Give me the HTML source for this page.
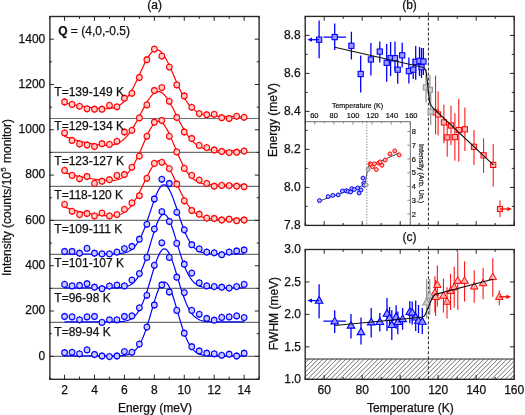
<!DOCTYPE html>
<html><head><meta charset="utf-8"><style>
html,body{margin:0;padding:0;background:#fff;width:525px;height:415px;overflow:hidden}
body{position:relative}
</style></head><body>
<svg width="525" height="415" viewBox="0 0 525 415" style="position:absolute;left:0;top:0;will-change:transform"><rect width="525" height="415" fill="#fff"/><line x1="49.6" y1="118.45" x2="259.1" y2="118.45" stroke="#707070" stroke-width="1.15"/><line x1="49.6" y1="152.44" x2="259.1" y2="152.44" stroke="#707070" stroke-width="1.15"/><line x1="49.6" y1="186.42" x2="259.1" y2="186.42" stroke="#707070" stroke-width="1.15"/><line x1="49.6" y1="220.41" x2="259.1" y2="220.41" stroke="#707070" stroke-width="1.15"/><line x1="49.6" y1="254.39" x2="259.1" y2="254.39" stroke="#707070" stroke-width="1.15"/><line x1="49.6" y1="288.38" x2="259.1" y2="288.38" stroke="#707070" stroke-width="1.15"/><line x1="49.6" y1="322.36" x2="259.1" y2="322.36" stroke="#707070" stroke-width="1.15"/><line x1="49.6" y1="356.34" x2="259.1" y2="356.34" stroke="#707070" stroke-width="1.15"/><polyline points="64.56,102.97 65.32,103.12 66.07,103.27 66.82,103.42 67.57,103.57 68.32,103.72 69.07,103.87 69.82,104.01 70.58,104.16 71.33,104.30 72.08,104.44 72.83,104.58 73.58,104.71 74.33,104.85 75.08,104.98 75.83,105.12 76.59,105.25 77.34,105.38 78.09,105.51 78.84,105.64 79.59,105.76 80.34,105.89 81.09,106.01 81.85,106.14 82.60,106.26 83.35,106.38 84.10,106.50 84.85,106.61 85.60,106.73 86.35,106.84 87.10,106.95 87.86,107.06 88.61,107.17 89.36,107.28 90.11,107.39 90.86,107.49 91.61,107.59 92.36,107.69 93.12,107.79 93.87,107.88 94.62,107.97 95.37,108.06 96.12,108.15 96.87,108.23 97.62,108.31 98.37,108.38 99.13,108.45 99.88,108.52 100.63,108.57 101.38,108.63 102.13,108.67 102.88,108.71 103.63,108.74 104.39,108.76 105.14,108.77 105.89,108.76 106.64,108.75 107.39,108.72 108.14,108.68 108.89,108.62 109.64,108.55 110.40,108.46 111.15,108.34 111.90,108.21 112.65,108.05 113.40,107.86 114.15,107.65 114.90,107.41 115.66,107.13 116.41,106.83 117.16,106.49 117.91,106.11 118.66,105.69 119.41,105.23 120.16,104.73 120.92,104.18 121.67,103.58 122.42,102.94 123.17,102.24 123.92,101.49 124.67,100.69 125.42,99.84 126.17,98.93 126.93,97.96 127.68,96.94 128.43,95.86 129.18,94.72 129.93,93.53 130.68,92.29 131.43,90.99 132.19,89.64 132.94,88.25 133.69,86.80 134.44,85.32 135.19,83.80 135.94,82.24 136.69,80.65 137.44,79.04 138.20,77.40 138.95,75.75 139.70,74.10 140.45,72.44 141.20,70.79 141.95,69.15 142.70,67.53 143.46,65.93 144.21,64.38 144.96,62.86 145.71,61.39 146.46,59.98 147.21,58.64 147.96,57.36 148.71,56.17 149.47,55.06 150.22,54.04 150.97,53.12 151.72,52.31 152.47,51.60 153.22,51.00 153.97,50.52 154.73,50.16 155.48,49.92 156.23,49.80 156.98,49.81 157.73,49.94 158.48,50.19 159.23,50.57 159.99,51.07 160.74,51.68 161.49,52.41 162.24,53.25 162.99,54.20 163.74,55.25 164.49,56.39 165.24,57.62 166.00,58.94 166.75,60.33 167.50,61.79 168.25,63.32 169.00,64.89 169.75,66.52 170.50,68.18 171.26,69.88 172.01,71.60 172.76,73.34 173.51,75.08 174.26,76.83 175.01,78.58 175.76,80.32 176.51,82.04 177.27,83.73 178.02,85.41 178.77,87.04 179.52,88.65 180.27,90.21 181.02,91.73 181.77,93.20 182.53,94.63 183.28,96.00 184.03,97.32 184.78,98.59 185.53,99.80 186.28,100.95 187.03,102.05 187.78,103.09 188.54,104.08 189.29,105.01 190.04,105.89 190.79,106.72 191.54,107.49 192.29,108.22 193.04,108.90 193.80,109.53 194.55,110.12 195.30,110.66 196.05,111.17 196.80,111.64 197.55,112.07 198.30,112.47 199.06,112.83 199.81,113.17 200.56,113.47 201.31,113.75 202.06,114.01 202.81,114.25 203.56,114.46 204.31,114.65 205.07,114.83 205.82,114.99 206.57,115.14 207.32,115.27 208.07,115.39 208.82,115.50 209.57,115.60 210.33,115.69 211.08,115.77 211.83,115.85 212.58,115.92 213.33,115.98 214.08,116.04 214.83,116.09 215.58,116.14 216.34,116.18 217.09,116.22 217.84,116.26 218.59,116.29 219.34,116.33 220.09,116.36 220.84,116.39 221.60,116.41 222.35,116.44 223.10,116.46 223.85,116.49 224.60,116.51 225.35,116.53 226.10,116.55 226.85,116.57 227.61,116.59 228.36,116.61 229.11,116.63 229.86,116.65 230.61,116.67 231.36,116.69 232.11,116.70 232.87,116.72 233.62,116.74 234.37,116.75 235.12,116.77 235.87,116.79 236.62,116.80 237.37,116.82 238.12,116.83 238.88,116.85 239.63,116.86 240.38,116.88 241.13,116.89 241.88,116.91 242.63,116.92 243.38,116.94 244.14,116.95" fill="none" stroke="#ff0000" stroke-width="1.2"/><polyline points="64.56,136.25 65.32,136.54 66.07,136.83 66.82,137.11 67.57,137.38 68.32,137.65 69.07,137.91 69.82,138.17 70.58,138.43 71.33,138.67 72.08,138.92 72.83,139.16 73.58,139.39 74.33,139.62 75.08,139.84 75.83,140.06 76.59,140.28 77.34,140.49 78.09,140.70 78.84,140.90 79.59,141.10 80.34,141.30 81.09,141.49 81.85,141.68 82.60,141.86 83.35,142.04 84.10,142.22 84.85,142.39 85.60,142.56 86.35,142.72 87.10,142.88 87.86,143.04 88.61,143.19 89.36,143.34 90.11,143.49 90.86,143.63 91.61,143.77 92.36,143.90 93.12,144.03 93.87,144.16 94.62,144.28 95.37,144.40 96.12,144.51 96.87,144.62 97.62,144.72 98.37,144.81 99.13,144.90 99.88,144.99 100.63,145.06 101.38,145.13 102.13,145.19 102.88,145.25 103.63,145.29 104.39,145.33 105.14,145.35 105.89,145.36 106.64,145.36 107.39,145.35 108.14,145.32 108.89,145.28 109.64,145.22 110.40,145.15 111.15,145.05 111.90,144.94 112.65,144.80 113.40,144.64 114.15,144.46 114.90,144.25 115.66,144.01 116.41,143.74 117.16,143.45 117.91,143.12 118.66,142.75 119.41,142.36 120.16,141.92 120.92,141.45 121.67,140.93 122.42,140.38 123.17,139.78 123.92,139.14 124.67,138.45 125.42,137.72 126.17,136.94 126.93,136.11 127.68,135.24 128.43,134.32 129.18,133.35 129.93,132.34 130.68,131.28 131.43,130.17 132.19,129.02 132.94,127.83 133.69,126.60 134.44,125.33 135.19,124.03 135.94,122.69 136.69,121.32 137.44,119.93 138.20,118.52 138.95,117.09 139.70,115.65 140.45,114.20 141.20,112.75 141.95,111.30 142.70,109.86 143.46,108.44 144.21,107.03 144.96,105.65 145.71,104.30 146.46,103.00 147.21,101.73 147.96,100.52 148.71,99.36 149.47,98.26 150.22,97.24 150.97,96.28 151.72,95.40 152.47,94.60 153.22,93.89 153.97,93.27 154.73,92.75 155.48,92.32 156.23,91.99 156.98,91.75 157.73,91.63 158.48,91.60 159.23,91.68 159.99,91.86 160.74,92.14 161.49,92.52 162.24,93.01 162.99,93.58 163.74,94.26 164.49,95.02 165.24,95.87 166.00,96.80 166.75,97.81 167.50,98.89 168.25,100.03 169.00,101.24 169.75,102.51 170.50,103.83 171.26,105.19 172.01,106.59 172.76,108.02 173.51,109.48 174.26,110.96 175.01,112.45 175.76,113.96 176.51,115.46 177.27,116.97 178.02,118.47 178.77,119.95 179.52,121.42 180.27,122.87 181.02,124.29 181.77,125.69 182.53,127.05 183.28,128.38 184.03,129.67 184.78,130.92 185.53,132.14 186.28,133.30 187.03,134.43 187.78,135.51 188.54,136.54 189.29,137.52 190.04,138.46 190.79,139.36 191.54,140.20 192.29,141.00 193.04,141.76 193.80,142.47 194.55,143.14 195.30,143.77 196.05,144.36 196.80,144.91 197.55,145.42 198.30,145.90 199.06,146.34 199.81,146.75 200.56,147.13 201.31,147.48 202.06,147.80 202.81,148.10 203.56,148.37 204.31,148.62 205.07,148.85 205.82,149.05 206.57,149.24 207.32,149.41 208.07,149.57 208.82,149.71 209.57,149.84 210.33,149.95 211.08,150.06 211.83,150.15 212.58,150.23 213.33,150.31 214.08,150.38 214.83,150.44 215.58,150.49 216.34,150.54 217.09,150.58 217.84,150.62 218.59,150.66 219.34,150.69 220.09,150.72 220.84,150.74 221.60,150.76 222.35,150.78 223.10,150.80 223.85,150.82 224.60,150.83 225.35,150.84 226.10,150.86 226.85,150.87 227.61,150.88 228.36,150.89 229.11,150.89 229.86,150.90 230.61,150.91 231.36,150.91 232.11,150.92 232.87,150.92 233.62,150.93 234.37,150.93 235.12,150.94 235.87,150.94 236.62,150.95 237.37,150.95 238.12,150.95 238.88,150.96 239.63,150.96 240.38,150.96 241.13,150.97 241.88,150.97 242.63,150.97 243.38,150.98 244.14,150.98" fill="none" stroke="#ff0000" stroke-width="1.2"/><polyline points="64.56,172.50 65.32,172.74 66.07,172.97 66.82,173.20 67.57,173.42 68.32,173.64 69.07,173.86 69.82,174.07 70.58,174.28 71.33,174.48 72.08,174.68 72.83,174.88 73.58,175.07 74.33,175.26 75.08,175.45 75.83,175.63 76.59,175.81 77.34,175.99 78.09,176.16 78.84,176.33 79.59,176.49 80.34,176.66 81.09,176.82 81.85,176.98 82.60,177.13 83.35,177.28 84.10,177.43 84.85,177.58 85.60,177.72 86.35,177.86 87.10,178.00 87.86,178.13 88.61,178.26 89.36,178.39 90.11,178.52 90.86,178.65 91.61,178.77 92.36,178.89 93.12,179.00 93.87,179.12 94.62,179.23 95.37,179.34 96.12,179.44 96.87,179.55 97.62,179.65 98.37,179.74 99.13,179.84 99.88,179.93 100.63,180.01 101.38,180.09 102.13,180.17 102.88,180.25 103.63,180.31 104.39,180.37 105.14,180.43 105.89,180.48 106.64,180.52 107.39,180.56 108.14,180.58 108.89,180.60 109.64,180.60 110.40,180.59 111.15,180.57 111.90,180.54 112.65,180.49 113.40,180.42 114.15,180.33 114.90,180.23 115.66,180.10 116.41,179.95 117.16,179.77 117.91,179.56 118.66,179.32 119.41,179.05 120.16,178.74 120.92,178.40 121.67,178.02 122.42,177.59 123.17,177.12 123.92,176.60 124.67,176.04 125.42,175.42 126.17,174.74 126.93,174.01 127.68,173.23 128.43,172.38 129.18,171.47 129.93,170.50 130.68,169.47 131.43,168.37 132.19,167.21 132.94,165.99 133.69,164.71 134.44,163.36 135.19,161.96 135.94,160.50 136.69,158.99 137.44,157.43 138.20,155.82 138.95,154.17 139.70,152.49 140.45,150.77 141.20,149.03 141.95,147.28 142.70,145.52 143.46,143.76 144.21,142.00 144.96,140.26 145.71,138.54 146.46,136.86 147.21,135.21 147.96,133.62 148.71,132.09 149.47,130.63 150.22,129.25 150.97,127.95 151.72,126.75 152.47,125.65 153.22,124.66 153.97,123.78 154.73,123.03 155.48,122.40 156.23,121.91 156.98,121.54 157.73,121.32 158.48,121.23 159.23,121.29 159.99,121.48 160.74,121.81 161.49,122.28 162.24,122.88 162.99,123.60 163.74,124.46 164.49,125.43 165.24,126.52 166.00,127.71 166.75,129.00 167.50,130.38 168.25,131.85 169.00,133.39 169.75,134.99 170.50,136.66 171.26,138.37 172.01,140.12 172.76,141.89 173.51,143.69 174.26,145.50 175.01,147.32 175.76,149.13 176.51,150.93 177.27,152.71 178.02,154.46 178.77,156.18 179.52,157.86 180.27,159.51 181.02,161.10 181.77,162.65 182.53,164.14 183.28,165.57 184.03,166.94 184.78,168.26 185.53,169.51 186.28,170.70 187.03,171.83 187.78,172.89 188.54,173.90 189.29,174.84 190.04,175.72 190.79,176.54 191.54,177.31 192.29,178.03 193.04,178.69 193.80,179.30 194.55,179.86 195.30,180.38 196.05,180.85 196.80,181.29 197.55,181.68 198.30,182.05 199.06,182.37 199.81,182.67 200.56,182.94 201.31,183.18 202.06,183.40 202.81,183.60 203.56,183.77 204.31,183.93 205.07,184.07 205.82,184.19 206.57,184.30 207.32,184.40 208.07,184.49 208.82,184.57 209.57,184.64 210.33,184.70 211.08,184.75 211.83,184.80 212.58,184.84 213.33,184.88 214.08,184.91 214.83,184.94 215.58,184.96 216.34,184.98 217.09,185.00 217.84,185.02 218.59,185.04 219.34,185.05 220.09,185.06 220.84,185.08 221.60,185.09 222.35,185.09 223.10,185.10 223.85,185.11 224.60,185.12 225.35,185.13 226.10,185.13 226.85,185.14 227.61,185.14 228.36,185.15 229.11,185.15 229.86,185.16 230.61,185.16 231.36,185.17 232.11,185.17 232.87,185.17 233.62,185.18 234.37,185.18 235.12,185.19 235.87,185.19 236.62,185.19 237.37,185.20 238.12,185.20 238.88,185.20 239.63,185.21 240.38,185.21 241.13,185.21 241.88,185.22 242.63,185.22 243.38,185.22 244.14,185.23" fill="none" stroke="#ff0000" stroke-width="1.2"/><polyline points="64.56,206.99 65.32,207.28 66.07,207.56 66.82,207.84 67.57,208.10 68.32,208.37 69.07,208.63 69.82,208.88 70.58,209.12 71.33,209.36 72.08,209.60 72.83,209.82 73.58,210.05 74.33,210.27 75.08,210.48 75.83,210.69 76.59,210.89 77.34,211.09 78.09,211.28 78.84,211.47 79.59,211.66 80.34,211.84 81.09,212.01 81.85,212.18 82.60,212.35 83.35,212.52 84.10,212.68 84.85,212.83 85.60,212.99 86.35,213.14 87.10,213.28 87.86,213.42 88.61,213.56 89.36,213.70 90.11,213.83 90.86,213.96 91.61,214.08 92.36,214.20 93.12,214.32 93.87,214.44 94.62,214.55 95.37,214.66 96.12,214.76 96.87,214.87 97.62,214.97 98.37,215.06 99.13,215.15 99.88,215.24 100.63,215.32 101.38,215.40 102.13,215.48 102.88,215.55 103.63,215.61 104.39,215.67 105.14,215.72 105.89,215.77 106.64,215.81 107.39,215.84 108.14,215.87 108.89,215.88 109.64,215.89 110.40,215.88 111.15,215.87 111.90,215.84 112.65,215.80 113.40,215.74 114.15,215.67 114.90,215.57 115.66,215.46 116.41,215.33 117.16,215.18 117.91,215.00 118.66,214.80 119.41,214.57 120.16,214.31 120.92,214.01 121.67,213.69 122.42,213.32 123.17,212.92 123.92,212.48 124.67,212.00 125.42,211.48 126.17,210.90 126.93,210.29 127.68,209.62 128.43,208.90 129.18,208.13 129.93,207.30 130.68,206.42 131.43,205.49 132.19,204.50 132.94,203.46 133.69,202.36 134.44,201.21 135.19,200.00 135.94,198.75 136.69,197.44 137.44,196.09 138.20,194.69 138.95,193.26 139.70,191.78 140.45,190.27 141.20,188.74 141.95,187.18 142.70,185.61 143.46,184.02 144.21,182.44 144.96,180.85 145.71,179.27 146.46,177.71 147.21,176.17 147.96,174.67 148.71,173.20 149.47,171.78 150.22,170.41 150.97,169.11 151.72,167.88 152.47,166.72 153.22,165.64 153.97,164.66 154.73,163.77 155.48,162.98 156.23,162.30 156.98,161.73 157.73,161.27 158.48,160.93 159.23,160.70 159.99,160.60 160.74,160.62 161.49,160.76 162.24,161.02 162.99,161.40 163.74,161.89 164.49,162.50 165.24,163.22 166.00,164.05 166.75,164.97 167.50,165.99 168.25,167.10 169.00,168.30 169.75,169.56 170.50,170.90 171.26,172.30 172.01,173.76 172.76,175.26 173.51,176.80 174.26,178.37 175.01,179.96 175.76,181.57 176.51,183.19 177.27,184.82 178.02,186.43 178.77,188.04 179.52,189.63 180.27,191.20 181.02,192.74 181.77,194.25 182.53,195.72 183.28,197.15 184.03,198.53 184.78,199.87 185.53,201.16 186.28,202.41 187.03,203.59 187.78,204.73 188.54,205.81 189.29,206.83 190.04,207.81 190.79,208.72 191.54,209.59 192.29,210.40 193.04,211.16 193.80,211.87 194.55,212.54 195.30,213.15 196.05,213.72 196.80,214.25 197.55,214.74 198.30,215.19 199.06,215.60 199.81,215.98 200.56,216.33 201.31,216.64 202.06,216.93 202.81,217.19 203.56,217.42 204.31,217.64 205.07,217.83 205.82,218.00 206.57,218.15 207.32,218.29 208.07,218.42 208.82,218.53 209.57,218.63 210.33,218.71 211.08,218.79 211.83,218.86 212.58,218.92 213.33,218.97 214.08,219.02 214.83,219.06 215.58,219.10 216.34,219.13 217.09,219.16 217.84,219.18 218.59,219.20 219.34,219.22 220.09,219.24 220.84,219.25 221.60,219.26 222.35,219.28 223.10,219.28 223.85,219.29 224.60,219.30 225.35,219.31 226.10,219.31 226.85,219.32 227.61,219.32 228.36,219.33 229.11,219.33 229.86,219.33 230.61,219.34 231.36,219.34 232.11,219.34 232.87,219.34 233.62,219.35 234.37,219.35 235.12,219.35 235.87,219.35 236.62,219.35 237.37,219.35 238.12,219.36 238.88,219.36 239.63,219.36 240.38,219.36 241.13,219.36 241.88,219.36 242.63,219.36 243.38,219.36 244.14,219.37" fill="none" stroke="#ff0000" stroke-width="1.2"/><polyline points="64.56,253.99 65.32,253.99 66.07,253.99 66.82,253.99 67.57,253.99 68.32,253.99 69.07,253.99 69.82,253.99 70.58,253.99 71.33,253.99 72.08,253.99 72.83,253.99 73.58,253.99 74.33,253.99 75.08,253.99 75.83,253.99 76.59,253.99 77.34,253.99 78.09,253.99 78.84,253.99 79.59,253.99 80.34,253.99 81.09,253.99 81.85,253.99 82.60,253.99 83.35,253.99 84.10,253.99 84.85,253.99 85.60,253.99 86.35,253.99 87.10,253.99 87.86,253.99 88.61,253.99 89.36,253.99 90.11,253.99 90.86,253.99 91.61,253.99 92.36,253.99 93.12,253.99 93.87,253.99 94.62,253.99 95.37,253.99 96.12,253.99 96.87,253.99 97.62,253.99 98.37,253.99 99.13,253.99 99.88,253.99 100.63,253.99 101.38,253.99 102.13,253.99 102.88,253.99 103.63,253.99 104.39,253.98 105.14,253.98 105.89,253.98 106.64,253.98 107.39,253.97 108.14,253.97 108.89,253.97 109.64,253.96 110.40,253.95 111.15,253.94 111.90,253.93 112.65,253.92 113.40,253.90 114.15,253.89 114.90,253.86 115.66,253.84 116.41,253.81 117.16,253.77 117.91,253.72 118.66,253.67 119.41,253.61 120.16,253.54 120.92,253.45 121.67,253.35 122.42,253.24 123.17,253.11 123.92,252.95 124.67,252.78 125.42,252.58 126.17,252.35 126.93,252.09 127.68,251.79 128.43,251.46 129.18,251.08 129.93,250.66 130.68,250.19 131.43,249.67 132.19,249.08 132.94,248.44 133.69,247.73 134.44,246.95 135.19,246.09 135.94,245.16 136.69,244.14 137.44,243.04 138.20,241.85 138.95,240.58 139.70,239.21 140.45,237.76 141.20,236.21 141.95,234.57 142.70,232.85 143.46,231.04 144.21,229.14 144.96,227.17 145.71,225.13 146.46,223.03 147.21,220.87 147.96,218.66 148.71,216.42 149.47,214.15 150.22,211.87 150.97,209.60 151.72,207.33 152.47,205.10 153.22,202.91 153.97,200.78 154.73,198.72 155.48,196.76 156.23,194.89 156.98,193.15 157.73,191.54 158.48,190.08 159.23,188.78 159.99,187.64 160.74,186.69 161.49,185.92 162.24,185.35 162.99,184.97 163.74,184.80 164.49,184.83 165.24,185.07 166.00,185.51 166.75,186.14 167.50,186.97 168.25,187.98 169.00,189.17 169.75,190.53 170.50,192.04 171.26,193.69 172.01,195.47 172.76,197.37 173.51,199.36 174.26,201.44 175.01,203.60 175.76,205.80 176.51,208.05 177.27,210.31 178.02,212.59 178.77,214.87 179.52,217.13 180.27,219.36 181.02,221.56 181.77,223.70 182.53,225.78 183.28,227.80 184.03,229.75 184.78,231.62 185.53,233.40 186.28,235.10 187.03,236.71 187.78,238.23 188.54,239.66 189.29,240.99 190.04,242.24 190.79,243.40 191.54,244.47 192.29,245.46 193.04,246.37 193.80,247.20 194.55,247.96 195.30,248.65 196.05,249.27 196.80,249.84 197.55,250.35 198.30,250.80 199.06,251.21 199.81,251.57 200.56,251.89 201.31,252.17 202.06,252.42 202.81,252.64 203.56,252.84 204.31,253.00 205.07,253.15 205.82,253.28 206.57,253.38 207.32,253.48 208.07,253.56 208.82,253.63 209.57,253.69 210.33,253.74 211.08,253.78 211.83,253.82 212.58,253.85 213.33,253.87 214.08,253.89 214.83,253.91 215.58,253.92 216.34,253.94 217.09,253.95 217.84,253.96 218.59,253.96 219.34,253.97 220.09,253.97 220.84,253.98 221.60,253.98 222.35,253.98 223.10,253.98 223.85,253.98 224.60,253.99 225.35,253.99 226.10,253.99 226.85,253.99 227.61,253.99 228.36,253.99 229.11,253.99 229.86,253.99 230.61,253.99 231.36,253.99 232.11,253.99 232.87,253.99 233.62,253.99 234.37,253.99 235.12,253.99 235.87,253.99 236.62,253.99 237.37,253.99 238.12,253.99 238.88,253.99 239.63,253.99 240.38,253.99 241.13,253.99 241.88,253.99 242.63,253.99 243.38,253.99 244.14,253.99" fill="none" stroke="#0000ff" stroke-width="1.2"/><polyline points="64.56,287.97 65.32,287.97 66.07,287.97 66.82,287.97 67.57,287.97 68.32,287.97 69.07,287.97 69.82,287.97 70.58,287.97 71.33,287.97 72.08,287.97 72.83,287.97 73.58,287.97 74.33,287.97 75.08,287.97 75.83,287.97 76.59,287.97 77.34,287.97 78.09,287.97 78.84,287.97 79.59,287.97 80.34,287.97 81.09,287.97 81.85,287.97 82.60,287.97 83.35,287.97 84.10,287.97 84.85,287.97 85.60,287.97 86.35,287.97 87.10,287.97 87.86,287.97 88.61,287.97 89.36,287.97 90.11,287.97 90.86,287.97 91.61,287.97 92.36,287.97 93.12,287.97 93.87,287.97 94.62,287.97 95.37,287.97 96.12,287.97 96.87,287.97 97.62,287.97 98.37,287.97 99.13,287.97 99.88,287.97 100.63,287.97 101.38,287.97 102.13,287.97 102.88,287.97 103.63,287.97 104.39,287.97 105.14,287.97 105.89,287.97 106.64,287.97 107.39,287.97 108.14,287.96 108.89,287.96 109.64,287.96 110.40,287.95 111.15,287.95 111.90,287.94 112.65,287.93 113.40,287.92 114.15,287.91 114.90,287.89 115.66,287.87 116.41,287.85 117.16,287.82 117.91,287.79 118.66,287.75 119.41,287.71 120.16,287.65 120.92,287.58 121.67,287.50 122.42,287.41 123.17,287.31 123.92,287.18 124.67,287.03 125.42,286.86 126.17,286.67 126.93,286.44 127.68,286.18 128.43,285.89 129.18,285.55 129.93,285.17 130.68,284.74 131.43,284.25 132.19,283.70 132.94,283.09 133.69,282.41 134.44,281.66 135.19,280.82 135.94,279.91 136.69,278.90 137.44,277.80 138.20,276.60 138.95,275.31 139.70,273.91 140.45,272.41 141.20,270.80 141.95,269.09 142.70,267.27 143.46,265.35 144.21,263.33 144.96,261.22 145.71,259.02 146.46,256.74 147.21,254.38 147.96,251.97 148.71,249.51 149.47,247.01 150.22,244.48 150.97,241.95 151.72,239.43 152.47,236.93 153.22,234.48 153.97,232.09 154.73,229.78 155.48,227.57 156.23,225.47 156.98,223.51 157.73,221.70 158.48,220.06 159.23,218.60 159.99,217.34 160.74,216.28 161.49,215.44 162.24,214.83 162.99,214.45 163.74,214.30 164.49,214.39 165.24,214.71 166.00,215.27 166.75,216.05 167.50,217.06 168.25,218.27 169.00,219.68 169.75,221.28 170.50,223.05 171.26,224.97 172.01,227.04 172.76,229.22 173.51,231.51 174.26,233.88 175.01,236.32 175.76,238.81 176.51,241.33 177.27,243.86 178.02,246.38 178.77,248.89 179.52,251.37 180.27,253.79 181.02,256.16 181.77,258.46 182.53,260.68 183.28,262.82 184.03,264.86 184.78,266.80 185.53,268.65 186.28,270.39 187.03,272.02 187.78,273.55 188.54,274.97 189.29,276.29 190.04,277.51 190.79,278.64 191.54,279.66 192.29,280.60 193.04,281.46 193.80,282.23 194.55,282.93 195.30,283.56 196.05,284.12 196.80,284.62 197.55,285.07 198.30,285.46 199.06,285.81 199.81,286.11 200.56,286.38 201.31,286.61 202.06,286.82 202.81,286.99 203.56,287.15 204.31,287.28 205.07,287.39 205.82,287.48 206.57,287.56 207.32,287.63 208.07,287.69 208.82,287.74 209.57,287.78 210.33,287.82 211.08,287.85 211.83,287.87 212.58,287.89 213.33,287.91 214.08,287.92 214.83,287.93 215.58,287.94 216.34,287.95 217.09,287.95 217.84,287.96 218.59,287.96 219.34,287.96 220.09,287.97 220.84,287.97 221.60,287.97 222.35,287.97 223.10,287.97 223.85,287.97 224.60,287.97 225.35,287.97 226.10,287.97 226.85,287.97 227.61,287.97 228.36,287.97 229.11,287.97 229.86,287.97 230.61,287.97 231.36,287.97 232.11,287.97 232.87,287.97 233.62,287.97 234.37,287.97 235.12,287.97 235.87,287.97 236.62,287.97 237.37,287.97 238.12,287.97 238.88,287.97 239.63,287.97 240.38,287.97 241.13,287.97 241.88,287.97 242.63,287.97 243.38,287.97 244.14,287.97" fill="none" stroke="#0000ff" stroke-width="1.2"/><polyline points="64.56,321.96 65.32,321.96 66.07,321.96 66.82,321.96 67.57,321.96 68.32,321.96 69.07,321.96 69.82,321.96 70.58,321.96 71.33,321.96 72.08,321.96 72.83,321.96 73.58,321.96 74.33,321.96 75.08,321.96 75.83,321.96 76.59,321.96 77.34,321.96 78.09,321.96 78.84,321.96 79.59,321.96 80.34,321.96 81.09,321.96 81.85,321.96 82.60,321.96 83.35,321.96 84.10,321.96 84.85,321.96 85.60,321.96 86.35,321.96 87.10,321.96 87.86,321.96 88.61,321.96 89.36,321.96 90.11,321.96 90.86,321.96 91.61,321.96 92.36,321.96 93.12,321.96 93.87,321.96 94.62,321.96 95.37,321.96 96.12,321.96 96.87,321.96 97.62,321.96 98.37,321.96 99.13,321.96 99.88,321.96 100.63,321.96 101.38,321.96 102.13,321.96 102.88,321.96 103.63,321.96 104.39,321.96 105.14,321.96 105.89,321.96 106.64,321.95 107.39,321.95 108.14,321.95 108.89,321.95 109.64,321.95 110.40,321.94 111.15,321.94 111.90,321.93 112.65,321.92 113.40,321.92 114.15,321.91 114.90,321.89 115.66,321.88 116.41,321.86 117.16,321.84 117.91,321.81 118.66,321.78 119.41,321.74 120.16,321.69 120.92,321.63 121.67,321.57 122.42,321.49 123.17,321.39 123.92,321.29 124.67,321.16 125.42,321.01 126.17,320.84 126.93,320.64 127.68,320.41 128.43,320.15 129.18,319.85 129.93,319.51 130.68,319.13 131.43,318.69 132.19,318.20 132.94,317.64 133.69,317.03 134.44,316.34 135.19,315.58 135.94,314.74 136.69,313.81 137.44,312.79 138.20,311.68 138.95,310.48 139.70,309.17 140.45,307.76 141.20,306.24 141.95,304.62 142.70,302.90 143.46,301.07 144.21,299.14 144.96,297.11 145.71,294.99 146.46,292.78 147.21,290.49 147.96,288.13 148.71,285.71 149.47,283.25 150.22,280.75 150.97,278.23 151.72,275.71 152.47,273.20 153.22,270.72 153.97,268.29 154.73,265.92 155.48,263.64 156.23,261.46 156.98,259.40 157.73,257.49 158.48,255.72 159.23,254.13 159.99,252.73 160.74,251.52 161.49,250.52 162.24,249.75 162.99,249.20 163.74,248.88 164.49,248.80 165.24,248.96 166.00,249.35 166.75,249.97 167.50,250.81 168.25,251.88 169.00,253.15 169.75,254.61 170.50,256.26 171.26,258.07 172.01,260.04 172.76,262.13 173.51,264.35 174.26,266.66 175.01,269.05 175.76,271.50 176.51,273.99 177.27,276.50 178.02,279.03 178.77,281.54 179.52,284.03 180.27,286.48 181.02,288.88 181.77,291.22 182.53,293.48 183.28,295.66 184.03,297.76 184.78,299.76 185.53,301.65 186.28,303.45 187.03,305.14 187.78,306.73 188.54,308.21 189.29,309.59 190.04,310.87 190.79,312.04 191.54,313.12 192.29,314.11 193.04,315.01 193.80,315.83 194.55,316.56 195.30,317.23 196.05,317.83 196.80,318.36 197.55,318.83 198.30,319.25 199.06,319.62 199.81,319.95 200.56,320.24 201.31,320.49 202.06,320.71 202.81,320.90 203.56,321.06 204.31,321.20 205.07,321.32 205.82,321.42 206.57,321.51 207.32,321.59 208.07,321.65 208.82,321.70 209.57,321.75 210.33,321.79 211.08,321.82 211.83,321.84 212.58,321.87 213.33,321.88 214.08,321.90 214.83,321.91 215.58,321.92 216.34,321.93 217.09,321.93 217.84,321.94 218.59,321.94 219.34,321.95 220.09,321.95 220.84,321.95 221.60,321.95 222.35,321.95 223.10,321.96 223.85,321.96 224.60,321.96 225.35,321.96 226.10,321.96 226.85,321.96 227.61,321.96 228.36,321.96 229.11,321.96 229.86,321.96 230.61,321.96 231.36,321.96 232.11,321.96 232.87,321.96 233.62,321.96 234.37,321.96 235.12,321.96 235.87,321.96 236.62,321.96 237.37,321.96 238.12,321.96 238.88,321.96 239.63,321.96 240.38,321.96 241.13,321.96 241.88,321.96 242.63,321.96 243.38,321.96 244.14,321.96" fill="none" stroke="#0000ff" stroke-width="1.2"/><polyline points="64.56,355.94 65.32,355.94 66.07,355.94 66.82,355.94 67.57,355.94 68.32,355.94 69.07,355.94 69.82,355.94 70.58,355.94 71.33,355.94 72.08,355.94 72.83,355.94 73.58,355.94 74.33,355.94 75.08,355.94 75.83,355.94 76.59,355.94 77.34,355.94 78.09,355.94 78.84,355.94 79.59,355.94 80.34,355.94 81.09,355.94 81.85,355.94 82.60,355.94 83.35,355.94 84.10,355.94 84.85,355.94 85.60,355.94 86.35,355.94 87.10,355.94 87.86,355.94 88.61,355.94 89.36,355.94 90.11,355.94 90.86,355.94 91.61,355.94 92.36,355.94 93.12,355.94 93.87,355.94 94.62,355.94 95.37,355.94 96.12,355.94 96.87,355.94 97.62,355.94 98.37,355.94 99.13,355.94 99.88,355.94 100.63,355.94 101.38,355.94 102.13,355.94 102.88,355.94 103.63,355.94 104.39,355.94 105.14,355.94 105.89,355.94 106.64,355.94 107.39,355.94 108.14,355.94 108.89,355.94 109.64,355.93 110.40,355.93 111.15,355.93 111.90,355.93 112.65,355.92 113.40,355.91 114.15,355.91 114.90,355.90 115.66,355.89 116.41,355.87 117.16,355.85 117.91,355.83 118.66,355.81 119.41,355.78 120.16,355.74 120.92,355.70 121.67,355.64 122.42,355.58 123.17,355.50 123.92,355.41 124.67,355.31 125.42,355.18 126.17,355.04 126.93,354.87 127.68,354.67 128.43,354.45 129.18,354.19 129.93,353.89 130.68,353.54 131.43,353.15 132.19,352.71 132.94,352.21 133.69,351.65 134.44,351.02 135.19,350.31 135.94,349.53 136.69,348.66 137.44,347.70 138.20,346.65 138.95,345.49 139.70,344.24 140.45,342.88 141.20,341.41 141.95,339.82 142.70,338.13 143.46,336.33 144.21,334.41 144.96,332.39 145.71,330.26 146.46,328.04 147.21,325.73 147.96,323.34 148.71,320.88 149.47,318.36 150.22,315.79 150.97,313.20 151.72,310.59 152.47,307.98 153.22,305.40 153.97,302.86 154.73,300.38 155.48,297.98 156.23,295.67 156.98,293.50 157.73,291.46 158.48,289.57 159.23,287.87 159.99,286.36 160.74,285.05 161.49,283.96 162.24,283.11 162.99,282.49 163.74,282.12 164.49,282.00 165.24,282.13 166.00,282.51 166.75,283.13 167.50,283.99 168.25,285.08 169.00,286.39 169.75,287.91 170.50,289.62 171.26,291.51 172.01,293.55 172.76,295.73 173.51,298.04 174.26,300.44 175.01,302.92 175.76,305.47 176.51,308.05 177.27,310.66 178.02,313.27 178.77,315.86 179.52,318.42 180.27,320.94 181.02,323.40 181.77,325.79 182.53,328.10 183.28,330.32 184.03,332.44 184.78,334.46 185.53,336.37 186.28,338.17 187.03,339.87 187.78,341.44 188.54,342.91 189.29,344.27 190.04,345.52 190.79,346.67 191.54,347.73 192.29,348.68 193.04,349.55 193.80,350.33 194.55,351.03 195.30,351.66 196.05,352.23 196.80,352.72 197.55,353.17 198.30,353.55 199.06,353.90 199.81,354.19 200.56,354.45 201.31,354.68 202.06,354.88 202.81,355.04 203.56,355.19 204.31,355.31 205.07,355.42 205.82,355.50 206.57,355.58 207.32,355.64 208.07,355.70 208.82,355.74 209.57,355.78 210.33,355.81 211.08,355.83 211.83,355.86 212.58,355.87 213.33,355.89 214.08,355.90 214.83,355.91 215.58,355.91 216.34,355.92 217.09,355.93 217.84,355.93 218.59,355.93 219.34,355.93 220.09,355.94 220.84,355.94 221.60,355.94 222.35,355.94 223.10,355.94 223.85,355.94 224.60,355.94 225.35,355.94 226.10,355.94 226.85,355.94 227.61,355.94 228.36,355.94 229.11,355.94 229.86,355.94 230.61,355.94 231.36,355.94 232.11,355.94 232.87,355.94 233.62,355.94 234.37,355.94 235.12,355.94 235.87,355.94 236.62,355.94 237.37,355.94 238.12,355.94 238.88,355.94 239.63,355.94 240.38,355.94 241.13,355.94 241.88,355.94 242.63,355.94 243.38,355.94 244.14,355.94" fill="none" stroke="#0000ff" stroke-width="1.2"/><g stroke="#ff0000" stroke-width="1.0"><line x1="64.56" y1="98.30" x2="64.56" y2="105.70"/><line x1="72.05" y1="100.70" x2="72.05" y2="108.10"/><line x1="79.53" y1="102.60" x2="79.53" y2="110.00"/><line x1="87.01" y1="105.10" x2="87.01" y2="112.50"/><line x1="94.49" y1="105.50" x2="94.49" y2="112.90"/><line x1="101.98" y1="105.50" x2="101.98" y2="112.90"/><line x1="109.46" y1="101.70" x2="109.46" y2="109.10"/><line x1="116.94" y1="103.10" x2="116.94" y2="110.50"/><line x1="124.42" y1="94.50" x2="124.42" y2="101.90"/><line x1="131.90" y1="89.60" x2="131.90" y2="97.00"/><line x1="139.39" y1="73.80" x2="139.39" y2="81.20"/><line x1="146.87" y1="56.00" x2="146.87" y2="63.40"/><line x1="154.35" y1="45.40" x2="154.35" y2="52.80"/><line x1="161.83" y1="52.40" x2="161.83" y2="59.80"/><line x1="169.31" y1="63.40" x2="169.31" y2="70.80"/><line x1="176.80" y1="81.20" x2="176.80" y2="88.60"/><line x1="184.28" y1="92.30" x2="184.28" y2="99.70"/><line x1="191.76" y1="103.60" x2="191.76" y2="111.00"/><line x1="199.24" y1="109.90" x2="199.24" y2="117.30"/><line x1="206.73" y1="111.00" x2="206.73" y2="118.40"/><line x1="214.21" y1="110.60" x2="214.21" y2="118.00"/><line x1="221.69" y1="114.00" x2="221.69" y2="121.40"/><line x1="229.17" y1="114.80" x2="229.17" y2="122.20"/><line x1="236.65" y1="112.60" x2="236.65" y2="120.00"/><line x1="244.14" y1="113.60" x2="244.14" y2="121.00"/></g><g stroke="#ff0000" stroke-width="1.1" fill="#ffcccc"><circle cx="64.56" cy="102.00" r="2.85"/><circle cx="72.05" cy="104.40" r="2.85"/><circle cx="79.53" cy="106.30" r="2.85"/><circle cx="87.01" cy="108.80" r="2.85"/><circle cx="94.49" cy="109.20" r="2.85"/><circle cx="101.98" cy="109.20" r="2.85"/><circle cx="109.46" cy="105.40" r="2.85"/><circle cx="116.94" cy="106.80" r="2.85"/><circle cx="124.42" cy="98.20" r="2.85"/><circle cx="131.90" cy="93.30" r="2.85"/><circle cx="139.39" cy="77.50" r="2.85"/><circle cx="146.87" cy="59.70" r="2.85"/><circle cx="154.35" cy="49.10" r="2.85"/><circle cx="161.83" cy="56.10" r="2.85"/><circle cx="169.31" cy="67.10" r="2.85"/><circle cx="176.80" cy="84.90" r="2.85"/><circle cx="184.28" cy="96.00" r="2.85"/><circle cx="191.76" cy="107.30" r="2.85"/><circle cx="199.24" cy="113.60" r="2.85"/><circle cx="206.73" cy="114.70" r="2.85"/><circle cx="214.21" cy="114.30" r="2.85"/><circle cx="221.69" cy="117.70" r="2.85"/><circle cx="229.17" cy="118.50" r="2.85"/><circle cx="236.65" cy="116.30" r="2.85"/><circle cx="244.14" cy="117.30" r="2.85"/></g><g stroke="#ff0000" stroke-width="1.0"><line x1="64.56" y1="129.20" x2="64.56" y2="136.60"/><line x1="72.05" y1="136.80" x2="72.05" y2="144.20"/><line x1="79.53" y1="140.20" x2="79.53" y2="147.60"/><line x1="87.01" y1="141.30" x2="87.01" y2="148.70"/><line x1="94.49" y1="142.80" x2="94.49" y2="150.20"/><line x1="101.98" y1="140.00" x2="101.98" y2="147.40"/><line x1="109.46" y1="140.70" x2="109.46" y2="148.10"/><line x1="116.94" y1="137.60" x2="116.94" y2="145.00"/><line x1="124.42" y1="128.30" x2="124.42" y2="135.70"/><line x1="131.90" y1="126.60" x2="131.90" y2="134.00"/><line x1="139.39" y1="114.20" x2="139.39" y2="121.60"/><line x1="146.87" y1="101.20" x2="146.87" y2="108.60"/><line x1="154.35" y1="86.80" x2="154.35" y2="94.20"/><line x1="161.83" y1="83.90" x2="161.83" y2="91.30"/><line x1="169.31" y1="97.60" x2="169.31" y2="105.00"/><line x1="176.80" y1="113.80" x2="176.80" y2="121.20"/><line x1="184.28" y1="128.30" x2="184.28" y2="135.70"/><line x1="191.76" y1="134.80" x2="191.76" y2="142.20"/><line x1="199.24" y1="141.70" x2="199.24" y2="149.10"/><line x1="206.73" y1="143.90" x2="206.73" y2="151.30"/><line x1="214.21" y1="146.30" x2="214.21" y2="153.70"/><line x1="221.69" y1="147.80" x2="221.69" y2="155.20"/><line x1="229.17" y1="148.90" x2="229.17" y2="156.30"/><line x1="236.65" y1="148.50" x2="236.65" y2="155.90"/><line x1="244.14" y1="147.40" x2="244.14" y2="154.80"/></g><g stroke="#ff0000" stroke-width="1.1" fill="#ffcccc"><circle cx="64.56" cy="132.90" r="2.85"/><circle cx="72.05" cy="140.50" r="2.85"/><circle cx="79.53" cy="143.90" r="2.85"/><circle cx="87.01" cy="145.00" r="2.85"/><circle cx="94.49" cy="146.50" r="2.85"/><circle cx="101.98" cy="143.70" r="2.85"/><circle cx="109.46" cy="144.40" r="2.85"/><circle cx="116.94" cy="141.30" r="2.85"/><circle cx="124.42" cy="132.00" r="2.85"/><circle cx="131.90" cy="130.30" r="2.85"/><circle cx="139.39" cy="117.90" r="2.85"/><circle cx="146.87" cy="104.90" r="2.85"/><circle cx="154.35" cy="90.50" r="2.85"/><circle cx="161.83" cy="87.60" r="2.85"/><circle cx="169.31" cy="101.30" r="2.85"/><circle cx="176.80" cy="117.50" r="2.85"/><circle cx="184.28" cy="132.00" r="2.85"/><circle cx="191.76" cy="138.50" r="2.85"/><circle cx="199.24" cy="145.40" r="2.85"/><circle cx="206.73" cy="147.60" r="2.85"/><circle cx="214.21" cy="150.00" r="2.85"/><circle cx="221.69" cy="151.50" r="2.85"/><circle cx="229.17" cy="152.60" r="2.85"/><circle cx="236.65" cy="152.20" r="2.85"/><circle cx="244.14" cy="151.10" r="2.85"/></g><g stroke="#ff0000" stroke-width="1.0"><line x1="64.56" y1="166.70" x2="64.56" y2="174.10"/><line x1="72.05" y1="171.70" x2="72.05" y2="179.10"/><line x1="79.53" y1="175.10" x2="79.53" y2="182.50"/><line x1="87.01" y1="172.80" x2="87.01" y2="180.20"/><line x1="94.49" y1="179.70" x2="94.49" y2="187.10"/><line x1="101.98" y1="177.50" x2="101.98" y2="184.90"/><line x1="109.46" y1="176.00" x2="109.46" y2="183.40"/><line x1="116.94" y1="171.70" x2="116.94" y2="179.10"/><line x1="124.42" y1="170.80" x2="124.42" y2="178.20"/><line x1="131.90" y1="163.60" x2="131.90" y2="171.00"/><line x1="139.39" y1="152.40" x2="139.39" y2="159.80"/><line x1="146.87" y1="132.60" x2="146.87" y2="140.00"/><line x1="154.35" y1="118.50" x2="154.35" y2="125.90"/><line x1="161.83" y1="116.80" x2="161.83" y2="124.20"/><line x1="169.31" y1="132.60" x2="169.31" y2="140.00"/><line x1="176.80" y1="148.20" x2="176.80" y2="155.60"/><line x1="184.28" y1="164.70" x2="184.28" y2="172.10"/><line x1="191.76" y1="171.70" x2="191.76" y2="179.10"/><line x1="199.24" y1="176.40" x2="199.24" y2="183.80"/><line x1="206.73" y1="179.70" x2="206.73" y2="187.10"/><line x1="214.21" y1="182.50" x2="214.21" y2="189.90"/><line x1="221.69" y1="181.70" x2="221.69" y2="189.10"/><line x1="229.17" y1="181.90" x2="229.17" y2="189.30"/><line x1="236.65" y1="182.50" x2="236.65" y2="189.90"/><line x1="244.14" y1="183.00" x2="244.14" y2="190.40"/></g><g stroke="#ff0000" stroke-width="1.1" fill="#ffcccc"><circle cx="64.56" cy="170.40" r="2.85"/><circle cx="72.05" cy="175.40" r="2.85"/><circle cx="79.53" cy="178.80" r="2.85"/><circle cx="87.01" cy="176.50" r="2.85"/><circle cx="94.49" cy="183.40" r="2.85"/><circle cx="101.98" cy="181.20" r="2.85"/><circle cx="109.46" cy="179.70" r="2.85"/><circle cx="116.94" cy="175.40" r="2.85"/><circle cx="124.42" cy="174.50" r="2.85"/><circle cx="131.90" cy="167.30" r="2.85"/><circle cx="139.39" cy="156.10" r="2.85"/><circle cx="146.87" cy="136.30" r="2.85"/><circle cx="154.35" cy="122.20" r="2.85"/><circle cx="161.83" cy="120.50" r="2.85"/><circle cx="169.31" cy="136.30" r="2.85"/><circle cx="176.80" cy="151.90" r="2.85"/><circle cx="184.28" cy="168.40" r="2.85"/><circle cx="191.76" cy="175.40" r="2.85"/><circle cx="199.24" cy="180.10" r="2.85"/><circle cx="206.73" cy="183.40" r="2.85"/><circle cx="214.21" cy="186.20" r="2.85"/><circle cx="221.69" cy="185.40" r="2.85"/><circle cx="229.17" cy="185.60" r="2.85"/><circle cx="236.65" cy="186.20" r="2.85"/><circle cx="244.14" cy="186.70" r="2.85"/></g><g stroke="#ff0000" stroke-width="1.0"><line x1="64.56" y1="200.70" x2="64.56" y2="208.10"/><line x1="72.05" y1="207.60" x2="72.05" y2="215.00"/><line x1="79.53" y1="210.90" x2="79.53" y2="218.30"/><line x1="87.01" y1="209.80" x2="87.01" y2="217.20"/><line x1="94.49" y1="212.20" x2="94.49" y2="219.60"/><line x1="101.98" y1="209.40" x2="101.98" y2="216.80"/><line x1="109.46" y1="212.20" x2="109.46" y2="219.60"/><line x1="116.94" y1="210.90" x2="116.94" y2="218.30"/><line x1="124.42" y1="205.70" x2="124.42" y2="213.10"/><line x1="131.90" y1="199.20" x2="131.90" y2="206.60"/><line x1="139.39" y1="192.00" x2="139.39" y2="199.40"/><line x1="146.87" y1="174.60" x2="146.87" y2="182.00"/><line x1="154.35" y1="159.70" x2="154.35" y2="167.10"/><line x1="161.83" y1="158.60" x2="161.83" y2="166.00"/><line x1="169.31" y1="164.90" x2="169.31" y2="172.30"/><line x1="176.80" y1="180.30" x2="176.80" y2="187.70"/><line x1="184.28" y1="197.10" x2="184.28" y2="204.50"/><line x1="191.76" y1="206.80" x2="191.76" y2="214.20"/><line x1="199.24" y1="210.50" x2="199.24" y2="217.90"/><line x1="206.73" y1="214.40" x2="206.73" y2="221.80"/><line x1="214.21" y1="214.80" x2="214.21" y2="222.20"/><line x1="221.69" y1="216.30" x2="221.69" y2="223.70"/><line x1="229.17" y1="215.50" x2="229.17" y2="222.90"/><line x1="236.65" y1="217.00" x2="236.65" y2="224.40"/><line x1="244.14" y1="216.30" x2="244.14" y2="223.70"/></g><g stroke="#ff0000" stroke-width="1.1" fill="#ffcccc"><circle cx="64.56" cy="204.40" r="2.85"/><circle cx="72.05" cy="211.30" r="2.85"/><circle cx="79.53" cy="214.60" r="2.85"/><circle cx="87.01" cy="213.50" r="2.85"/><circle cx="94.49" cy="215.90" r="2.85"/><circle cx="101.98" cy="213.10" r="2.85"/><circle cx="109.46" cy="215.90" r="2.85"/><circle cx="116.94" cy="214.60" r="2.85"/><circle cx="124.42" cy="209.40" r="2.85"/><circle cx="131.90" cy="202.90" r="2.85"/><circle cx="139.39" cy="195.70" r="2.85"/><circle cx="146.87" cy="178.30" r="2.85"/><circle cx="154.35" cy="163.40" r="2.85"/><circle cx="161.83" cy="162.30" r="2.85"/><circle cx="169.31" cy="168.60" r="2.85"/><circle cx="176.80" cy="184.00" r="2.85"/><circle cx="184.28" cy="200.80" r="2.85"/><circle cx="191.76" cy="210.50" r="2.85"/><circle cx="199.24" cy="214.20" r="2.85"/><circle cx="206.73" cy="218.10" r="2.85"/><circle cx="214.21" cy="218.50" r="2.85"/><circle cx="221.69" cy="220.00" r="2.85"/><circle cx="229.17" cy="219.20" r="2.85"/><circle cx="236.65" cy="220.70" r="2.85"/><circle cx="244.14" cy="220.00" r="2.85"/></g><g stroke="#0000ff" stroke-width="1.0"><line x1="64.56" y1="247.80" x2="64.56" y2="255.20"/><line x1="72.05" y1="247.80" x2="72.05" y2="255.20"/><line x1="79.53" y1="249.50" x2="79.53" y2="256.90"/><line x1="87.01" y1="244.70" x2="87.01" y2="252.10"/><line x1="94.49" y1="249.50" x2="94.49" y2="256.90"/><line x1="101.98" y1="250.20" x2="101.98" y2="257.60"/><line x1="109.46" y1="250.20" x2="109.46" y2="257.60"/><line x1="116.94" y1="248.40" x2="116.94" y2="255.80"/><line x1="124.42" y1="244.90" x2="124.42" y2="252.30"/><line x1="131.90" y1="242.80" x2="131.90" y2="250.20"/><line x1="139.39" y1="235.50" x2="139.39" y2="242.90"/><line x1="146.87" y1="220.60" x2="146.87" y2="228.00"/><line x1="154.35" y1="195.30" x2="154.35" y2="202.70"/><line x1="161.83" y1="175.60" x2="161.83" y2="183.00"/><line x1="169.31" y1="179.80" x2="169.31" y2="187.20"/><line x1="176.80" y1="208.60" x2="176.80" y2="216.00"/><line x1="184.28" y1="226.10" x2="184.28" y2="233.50"/><line x1="191.76" y1="241.00" x2="191.76" y2="248.40"/><line x1="199.24" y1="245.20" x2="199.24" y2="252.60"/><line x1="206.73" y1="248.40" x2="206.73" y2="255.80"/><line x1="214.21" y1="249.10" x2="214.21" y2="256.50"/><line x1="221.69" y1="251.00" x2="221.69" y2="258.40"/><line x1="229.17" y1="248.40" x2="229.17" y2="255.80"/><line x1="236.65" y1="247.30" x2="236.65" y2="254.70"/><line x1="244.14" y1="246.30" x2="244.14" y2="253.70"/></g><g stroke="#0000ff" stroke-width="1.1" fill="#ccccff"><circle cx="64.56" cy="251.50" r="2.85"/><circle cx="72.05" cy="251.50" r="2.85"/><circle cx="79.53" cy="253.20" r="2.85"/><circle cx="87.01" cy="248.40" r="2.85"/><circle cx="94.49" cy="253.20" r="2.85"/><circle cx="101.98" cy="253.90" r="2.85"/><circle cx="109.46" cy="253.90" r="2.85"/><circle cx="116.94" cy="252.10" r="2.85"/><circle cx="124.42" cy="248.60" r="2.85"/><circle cx="131.90" cy="246.50" r="2.85"/><circle cx="139.39" cy="239.20" r="2.85"/><circle cx="146.87" cy="224.30" r="2.85"/><circle cx="154.35" cy="199.00" r="2.85"/><circle cx="161.83" cy="179.30" r="2.85"/><circle cx="169.31" cy="183.50" r="2.85"/><circle cx="176.80" cy="212.30" r="2.85"/><circle cx="184.28" cy="229.80" r="2.85"/><circle cx="191.76" cy="244.70" r="2.85"/><circle cx="199.24" cy="248.90" r="2.85"/><circle cx="206.73" cy="252.10" r="2.85"/><circle cx="214.21" cy="252.80" r="2.85"/><circle cx="221.69" cy="254.70" r="2.85"/><circle cx="229.17" cy="252.10" r="2.85"/><circle cx="236.65" cy="251.00" r="2.85"/><circle cx="244.14" cy="250.00" r="2.85"/></g><g stroke="#0000ff" stroke-width="1.0"><line x1="64.56" y1="280.70" x2="64.56" y2="288.10"/><line x1="72.05" y1="282.20" x2="72.05" y2="289.60"/><line x1="79.53" y1="281.80" x2="79.53" y2="289.20"/><line x1="87.01" y1="280.00" x2="87.01" y2="287.40"/><line x1="94.49" y1="283.50" x2="94.49" y2="290.90"/><line x1="101.98" y1="285.00" x2="101.98" y2="292.40"/><line x1="109.46" y1="282.40" x2="109.46" y2="289.80"/><line x1="116.94" y1="281.40" x2="116.94" y2="288.80"/><line x1="124.42" y1="282.20" x2="124.42" y2="289.60"/><line x1="131.90" y1="276.40" x2="131.90" y2="283.80"/><line x1="139.39" y1="269.90" x2="139.39" y2="277.30"/><line x1="146.87" y1="253.70" x2="146.87" y2="261.10"/><line x1="154.35" y1="225.40" x2="154.35" y2="232.80"/><line x1="161.83" y1="207.90" x2="161.83" y2="215.30"/><line x1="169.31" y1="217.80" x2="169.31" y2="225.20"/><line x1="176.80" y1="239.70" x2="176.80" y2="247.10"/><line x1="184.28" y1="260.50" x2="184.28" y2="267.90"/><line x1="191.76" y1="269.40" x2="191.76" y2="276.80"/><line x1="199.24" y1="279.20" x2="199.24" y2="286.60"/><line x1="206.73" y1="282.20" x2="206.73" y2="289.60"/><line x1="214.21" y1="282.90" x2="214.21" y2="290.30"/><line x1="221.69" y1="283.50" x2="221.69" y2="290.90"/><line x1="229.17" y1="284.40" x2="229.17" y2="291.80"/><line x1="236.65" y1="282.90" x2="236.65" y2="290.30"/><line x1="244.14" y1="280.70" x2="244.14" y2="288.10"/></g><g stroke="#0000ff" stroke-width="1.1" fill="#ccccff"><circle cx="64.56" cy="284.40" r="2.85"/><circle cx="72.05" cy="285.90" r="2.85"/><circle cx="79.53" cy="285.50" r="2.85"/><circle cx="87.01" cy="283.70" r="2.85"/><circle cx="94.49" cy="287.20" r="2.85"/><circle cx="101.98" cy="288.70" r="2.85"/><circle cx="109.46" cy="286.10" r="2.85"/><circle cx="116.94" cy="285.10" r="2.85"/><circle cx="124.42" cy="285.90" r="2.85"/><circle cx="131.90" cy="280.10" r="2.85"/><circle cx="139.39" cy="273.60" r="2.85"/><circle cx="146.87" cy="257.40" r="2.85"/><circle cx="154.35" cy="229.10" r="2.85"/><circle cx="161.83" cy="211.60" r="2.85"/><circle cx="169.31" cy="221.50" r="2.85"/><circle cx="176.80" cy="243.40" r="2.85"/><circle cx="184.28" cy="264.20" r="2.85"/><circle cx="191.76" cy="273.10" r="2.85"/><circle cx="199.24" cy="282.90" r="2.85"/><circle cx="206.73" cy="285.90" r="2.85"/><circle cx="214.21" cy="286.60" r="2.85"/><circle cx="221.69" cy="287.20" r="2.85"/><circle cx="229.17" cy="288.10" r="2.85"/><circle cx="236.65" cy="286.60" r="2.85"/><circle cx="244.14" cy="284.40" r="2.85"/></g><g stroke="#0000ff" stroke-width="1.0"><line x1="64.56" y1="312.80" x2="64.56" y2="320.20"/><line x1="72.05" y1="313.20" x2="72.05" y2="320.60"/><line x1="79.53" y1="316.10" x2="79.53" y2="323.50"/><line x1="87.01" y1="313.20" x2="87.01" y2="320.60"/><line x1="94.49" y1="312.80" x2="94.49" y2="320.20"/><line x1="101.98" y1="318.70" x2="101.98" y2="326.10"/><line x1="109.46" y1="316.10" x2="109.46" y2="323.50"/><line x1="116.94" y1="316.10" x2="116.94" y2="323.50"/><line x1="124.42" y1="312.80" x2="124.42" y2="320.20"/><line x1="131.90" y1="312.20" x2="131.90" y2="319.60"/><line x1="139.39" y1="304.10" x2="139.39" y2="311.50"/><line x1="146.87" y1="291.60" x2="146.87" y2="299.00"/><line x1="154.35" y1="261.60" x2="154.35" y2="269.00"/><line x1="161.83" y1="239.10" x2="161.83" y2="246.50"/><line x1="169.31" y1="253.70" x2="169.31" y2="261.10"/><line x1="176.80" y1="273.50" x2="176.80" y2="280.90"/><line x1="184.28" y1="288.90" x2="184.28" y2="296.30"/><line x1="191.76" y1="306.70" x2="191.76" y2="314.10"/><line x1="199.24" y1="310.60" x2="199.24" y2="318.00"/><line x1="206.73" y1="314.80" x2="206.73" y2="322.20"/><line x1="214.21" y1="316.50" x2="214.21" y2="323.90"/><line x1="221.69" y1="313.70" x2="221.69" y2="321.10"/><line x1="229.17" y1="313.20" x2="229.17" y2="320.60"/><line x1="236.65" y1="312.20" x2="236.65" y2="319.60"/><line x1="244.14" y1="313.90" x2="244.14" y2="321.30"/></g><g stroke="#0000ff" stroke-width="1.1" fill="#ccccff"><circle cx="64.56" cy="316.50" r="2.85"/><circle cx="72.05" cy="316.90" r="2.85"/><circle cx="79.53" cy="319.80" r="2.85"/><circle cx="87.01" cy="316.90" r="2.85"/><circle cx="94.49" cy="316.50" r="2.85"/><circle cx="101.98" cy="322.40" r="2.85"/><circle cx="109.46" cy="319.80" r="2.85"/><circle cx="116.94" cy="319.80" r="2.85"/><circle cx="124.42" cy="316.50" r="2.85"/><circle cx="131.90" cy="315.90" r="2.85"/><circle cx="139.39" cy="307.80" r="2.85"/><circle cx="146.87" cy="295.30" r="2.85"/><circle cx="154.35" cy="265.30" r="2.85"/><circle cx="161.83" cy="242.80" r="2.85"/><circle cx="169.31" cy="257.40" r="2.85"/><circle cx="176.80" cy="277.20" r="2.85"/><circle cx="184.28" cy="292.60" r="2.85"/><circle cx="191.76" cy="310.40" r="2.85"/><circle cx="199.24" cy="314.30" r="2.85"/><circle cx="206.73" cy="318.50" r="2.85"/><circle cx="214.21" cy="320.20" r="2.85"/><circle cx="221.69" cy="317.40" r="2.85"/><circle cx="229.17" cy="316.90" r="2.85"/><circle cx="236.65" cy="315.90" r="2.85"/><circle cx="244.14" cy="317.60" r="2.85"/></g><g stroke="#0000ff" stroke-width="1.0"><line x1="64.56" y1="349.00" x2="64.56" y2="356.40"/><line x1="72.05" y1="348.60" x2="72.05" y2="356.00"/><line x1="79.53" y1="350.10" x2="79.53" y2="357.50"/><line x1="87.01" y1="346.20" x2="87.01" y2="353.60"/><line x1="94.49" y1="350.80" x2="94.49" y2="358.20"/><line x1="101.98" y1="352.30" x2="101.98" y2="359.70"/><line x1="109.46" y1="352.90" x2="109.46" y2="360.30"/><line x1="116.94" y1="352.30" x2="116.94" y2="359.70"/><line x1="124.42" y1="347.90" x2="124.42" y2="355.30"/><line x1="131.90" y1="348.60" x2="131.90" y2="356.00"/><line x1="139.39" y1="340.40" x2="139.39" y2="347.80"/><line x1="146.87" y1="323.40" x2="146.87" y2="330.80"/><line x1="154.35" y1="301.30" x2="154.35" y2="308.70"/><line x1="161.83" y1="281.30" x2="161.83" y2="288.70"/><line x1="169.31" y1="288.30" x2="169.31" y2="295.70"/><line x1="176.80" y1="306.70" x2="176.80" y2="314.10"/><line x1="184.28" y1="329.50" x2="184.28" y2="336.90"/><line x1="191.76" y1="343.00" x2="191.76" y2="350.40"/><line x1="199.24" y1="347.30" x2="199.24" y2="354.70"/><line x1="206.73" y1="349.50" x2="206.73" y2="356.90"/><line x1="214.21" y1="350.10" x2="214.21" y2="357.50"/><line x1="221.69" y1="351.60" x2="221.69" y2="359.00"/><line x1="229.17" y1="350.50" x2="229.17" y2="357.90"/><line x1="236.65" y1="352.30" x2="236.65" y2="359.70"/><line x1="244.14" y1="349.50" x2="244.14" y2="356.90"/></g><g stroke="#0000ff" stroke-width="1.1" fill="#ccccff"><circle cx="64.56" cy="352.70" r="2.85"/><circle cx="72.05" cy="352.30" r="2.85"/><circle cx="79.53" cy="353.80" r="2.85"/><circle cx="87.01" cy="349.90" r="2.85"/><circle cx="94.49" cy="354.50" r="2.85"/><circle cx="101.98" cy="356.00" r="2.85"/><circle cx="109.46" cy="356.60" r="2.85"/><circle cx="116.94" cy="356.00" r="2.85"/><circle cx="124.42" cy="351.60" r="2.85"/><circle cx="131.90" cy="352.30" r="2.85"/><circle cx="139.39" cy="344.10" r="2.85"/><circle cx="146.87" cy="327.10" r="2.85"/><circle cx="154.35" cy="305.00" r="2.85"/><circle cx="161.83" cy="285.00" r="2.85"/><circle cx="169.31" cy="292.00" r="2.85"/><circle cx="176.80" cy="310.40" r="2.85"/><circle cx="184.28" cy="333.20" r="2.85"/><circle cx="191.76" cy="346.70" r="2.85"/><circle cx="199.24" cy="351.00" r="2.85"/><circle cx="206.73" cy="353.20" r="2.85"/><circle cx="214.21" cy="353.80" r="2.85"/><circle cx="221.69" cy="355.30" r="2.85"/><circle cx="229.17" cy="354.20" r="2.85"/><circle cx="236.65" cy="356.00" r="2.85"/><circle cx="244.14" cy="353.20" r="2.85"/></g><path d="M49.60 379.0v-2.4M49.60 16.5v2.4M64.56 379.0v-4.3M64.56 16.5v4.3M79.53 379.0v-2.4M79.53 16.5v2.4M94.49 379.0v-4.3M94.49 16.5v4.3M109.46 379.0v-2.4M109.46 16.5v2.4M124.42 379.0v-4.3M124.42 16.5v4.3M139.39 379.0v-2.4M139.39 16.5v2.4M154.35 379.0v-4.3M154.35 16.5v4.3M169.31 379.0v-2.4M169.31 16.5v2.4M184.28 379.0v-4.3M184.28 16.5v4.3M199.24 379.0v-2.4M199.24 16.5v2.4M214.21 379.0v-4.3M214.21 16.5v4.3M229.17 379.0v-2.4M229.17 16.5v2.4M244.14 379.0v-4.3M244.14 16.5v4.3M259.10 379.0v-2.4M259.10 16.5v2.4M49.6 379.00h2.4M259.1 379.00h-2.4M49.6 356.34h4.3M259.1 356.34h-4.3M49.6 333.69h2.4M259.1 333.69h-2.4M49.6 311.03h4.3M259.1 311.03h-4.3M49.6 288.38h2.4M259.1 288.38h-2.4M49.6 265.72h4.3M259.1 265.72h-4.3M49.6 243.06h2.4M259.1 243.06h-2.4M49.6 220.41h4.3M259.1 220.41h-4.3M49.6 197.75h2.4M259.1 197.75h-2.4M49.6 175.09h4.3M259.1 175.09h-4.3M49.6 152.44h2.4M259.1 152.44h-2.4M49.6 129.78h4.3M259.1 129.78h-4.3M49.6 107.12h2.4M259.1 107.12h-2.4M49.6 84.47h4.3M259.1 84.47h-4.3M49.6 61.81h2.4M259.1 61.81h-2.4M49.6 39.16h4.3M259.1 39.16h-4.3M49.6 16.50h2.4M259.1 16.50h-2.4" stroke="#262626" stroke-width="1" fill="none"/><rect x="49.9" y="16.5" width="209.20000000000002" height="362.8" fill="none" stroke="#262626" stroke-width="1.35"/><defs><clipPath id="hc"><rect x="305.2" y="359.0" width="209.00000000000006" height="20.30000000000001"/></clipPath></defs><path d="M275.20 379.3L295.50 359.0M279.80 379.3L300.10 359.0M284.40 379.3L304.70 359.0M289.00 379.3L309.30 359.0M293.60 379.3L313.90 359.0M298.20 379.3L318.50 359.0M302.80 379.3L323.10 359.0M307.40 379.3L327.70 359.0M312.00 379.3L332.30 359.0M316.60 379.3L336.90 359.0M321.20 379.3L341.50 359.0M325.80 379.3L346.10 359.0M330.40 379.3L350.70 359.0M335.00 379.3L355.30 359.0M339.60 379.3L359.90 359.0M344.20 379.3L364.50 359.0M348.80 379.3L369.10 359.0M353.40 379.3L373.70 359.0M358.00 379.3L378.30 359.0M362.60 379.3L382.90 359.0M367.20 379.3L387.50 359.0M371.80 379.3L392.10 359.0M376.40 379.3L396.70 359.0M381.00 379.3L401.30 359.0M385.60 379.3L405.90 359.0M390.20 379.3L410.50 359.0M394.80 379.3L415.10 359.0M399.40 379.3L419.70 359.0M404.00 379.3L424.30 359.0M408.60 379.3L428.90 359.0M413.20 379.3L433.50 359.0M417.80 379.3L438.10 359.0M422.40 379.3L442.70 359.0M427.00 379.3L447.30 359.0M431.60 379.3L451.90 359.0M436.20 379.3L456.50 359.0M440.80 379.3L461.10 359.0M445.40 379.3L465.70 359.0M450.00 379.3L470.30 359.0M454.60 379.3L474.90 359.0M459.20 379.3L479.50 359.0M463.80 379.3L484.10 359.0M468.40 379.3L488.70 359.0M473.00 379.3L493.30 359.0M477.60 379.3L497.90 359.0M482.20 379.3L502.50 359.0M486.80 379.3L507.10 359.0M491.40 379.3L511.70 359.0M496.00 379.3L516.30 359.0M500.60 379.3L520.90 359.0M505.20 379.3L525.50 359.0M509.80 379.3L530.10 359.0M514.40 379.3L534.70 359.0M519.00 379.3L539.30 359.0" stroke="#333" stroke-width="0.7" fill="none" clip-path="url(#hc)"/><line x1="305.2" y1="359.0" x2="514.2" y2="359.0" stroke="#262626" stroke-width="1"/><line x1="428.4" y1="12.6" x2="428.4" y2="228.9" stroke="#222" stroke-width="1" stroke-dasharray="3 2"/><line x1="428.4" y1="246.3" x2="428.4" y2="379.3" stroke="#222" stroke-width="1" stroke-dasharray="3 2"/><rect x="305.2" y="121.7" width="105.10000000000002" height="103.7" fill="#fff" stroke="none"/><path d="M305.20 121.7v1.8M314.75 121.7v3M324.31 121.7v1.8M333.86 121.7v3M343.42 121.7v1.8M352.97 121.7v3M362.53 121.7v1.8M372.08 121.7v3M381.64 121.7v1.8M391.19 121.7v3M400.75 121.7v1.8M410.30 121.7v3M410.3 214.00h-3M410.3 200.25h-3M410.3 186.50h-3M410.3 172.75h-3M410.3 159.00h-3M410.3 145.25h-3M410.3 131.50h-3" stroke="#777" stroke-width="0.8" fill="none"/><path d="M305.2 121.7H410.3V225.4" stroke="#6a6a6a" stroke-width="1" fill="none"/><line x1="366.8" y1="121.7" x2="366.8" y2="225.4" stroke="#666" stroke-width="0.9" stroke-dasharray="1.2 1.6"/><polyline points="319.5,201 364.9,184.8 368.1,166.7 399.1,153" fill="none" stroke="#333" stroke-width="0.9"/><g stroke-width="1.0"><circle cx="319.5" cy="200.6" r="1.95" stroke="#0000ff" fill="#b4b4ff"/><circle cx="328.1" cy="196.6" r="1.95" stroke="#0000ff" fill="#b4b4ff"/><circle cx="332.9" cy="195.4" r="1.95" stroke="#0000ff" fill="#b4b4ff"/><circle cx="338.2" cy="194.9" r="1.95" stroke="#0000ff" fill="#b4b4ff"/><circle cx="342.4" cy="191" r="1.95" stroke="#0000ff" fill="#b4b4ff"/><circle cx="346.2" cy="190.7" r="1.95" stroke="#0000ff" fill="#b4b4ff"/><circle cx="348.1" cy="191.4" r="1.95" stroke="#0000ff" fill="#b4b4ff"/><circle cx="350.6" cy="192" r="1.95" stroke="#0000ff" fill="#b4b4ff"/><circle cx="351.9" cy="188.6" r="1.95" stroke="#0000ff" fill="#b4b4ff"/><circle cx="354.2" cy="189.5" r="1.95" stroke="#0000ff" fill="#b4b4ff"/><circle cx="357.6" cy="188" r="1.95" stroke="#0000ff" fill="#b4b4ff"/><circle cx="359.1" cy="193" r="1.95" stroke="#0000ff" fill="#b4b4ff"/><circle cx="361" cy="189.9" r="1.95" stroke="#0000ff" fill="#b4b4ff"/><circle cx="363" cy="178.1" r="1.95" stroke="#0000ff" fill="#b4b4ff"/><circle cx="363.7" cy="183.4" r="1.95" stroke="#0000ff" fill="#b4b4ff"/><circle cx="364.3" cy="185.3" r="1.95" stroke="#0000ff" fill="#b4b4ff"/><circle cx="370" cy="163.8" r="1.95" stroke="#ff0000" fill="#ffb4b4"/><circle cx="371.3" cy="164.4" r="1.95" stroke="#ff0000" fill="#ffb4b4"/><circle cx="372.5" cy="166.7" r="1.95" stroke="#ff0000" fill="#ffb4b4"/><circle cx="374.4" cy="163.8" r="1.95" stroke="#ff0000" fill="#ffb4b4"/><circle cx="376.3" cy="169.5" r="1.95" stroke="#ff0000" fill="#ffb4b4"/><circle cx="378.6" cy="163.2" r="1.95" stroke="#ff0000" fill="#ffb4b4"/><circle cx="380.1" cy="161.9" r="1.95" stroke="#ff0000" fill="#ffb4b4"/><circle cx="382" cy="165.3" r="1.95" stroke="#ff0000" fill="#ffb4b4"/><circle cx="385.2" cy="160" r="1.95" stroke="#ff0000" fill="#ffb4b4"/><circle cx="390" cy="153.9" r="1.95" stroke="#ff0000" fill="#ffb4b4"/><circle cx="394.8" cy="150.9" r="1.95" stroke="#ff0000" fill="#ffb4b4"/><circle cx="399.1" cy="154.9" r="1.95" stroke="#ff0000" fill="#ffb4b4"/><circle cx="366.2" cy="184.8" r="1.95" stroke="#888" fill="#ccc"/><circle cx="368.1" cy="169.5" r="1.95" stroke="#888" fill="#ccc"/></g><text x="357.5" y="108.3" font-family='"Liberation Sans", sans-serif' font-size="7.1" text-anchor="middle" fill="#000" stroke="#000" stroke-width="0.15">Temperature (K)</text><text x="314.30" y="118.2" font-family='"Liberation Sans", sans-serif' font-size="7.5" text-anchor="middle" fill="#000" stroke="#000" stroke-width="0.15">60</text><text x="333.70" y="118.2" font-family='"Liberation Sans", sans-serif' font-size="7.5" text-anchor="middle" fill="#000" stroke="#000" stroke-width="0.15">80</text><text x="353.10" y="118.2" font-family='"Liberation Sans", sans-serif' font-size="7.5" text-anchor="middle" fill="#000" stroke="#000" stroke-width="0.15">100</text><text x="372.50" y="118.2" font-family='"Liberation Sans", sans-serif' font-size="7.5" text-anchor="middle" fill="#000" stroke="#000" stroke-width="0.15">120</text><text x="391.90" y="118.2" font-family='"Liberation Sans", sans-serif' font-size="7.5" text-anchor="middle" fill="#000" stroke="#000" stroke-width="0.15">140</text><text x="411.30" y="118.2" font-family='"Liberation Sans", sans-serif' font-size="7.5" text-anchor="middle" fill="#000" stroke="#000" stroke-width="0.15">160</text><text x="411.8" y="216.50" font-family='"Liberation Sans", sans-serif' font-size="7.5" fill="#000" stroke="#000" stroke-width="0.15">2</text><text x="411.8" y="202.75" font-family='"Liberation Sans", sans-serif' font-size="7.5" fill="#000" stroke="#000" stroke-width="0.15">3</text><text x="411.8" y="189.00" font-family='"Liberation Sans", sans-serif' font-size="7.5" fill="#000" stroke="#000" stroke-width="0.15">4</text><text x="411.8" y="175.25" font-family='"Liberation Sans", sans-serif' font-size="7.5" fill="#000" stroke="#000" stroke-width="0.15">5</text><text x="411.8" y="161.50" font-family='"Liberation Sans", sans-serif' font-size="7.5" fill="#000" stroke="#000" stroke-width="0.15">6</text><text x="411.8" y="147.75" font-family='"Liberation Sans", sans-serif' font-size="7.5" fill="#000" stroke="#000" stroke-width="0.15">7</text><text x="411.8" y="134.00" font-family='"Liberation Sans", sans-serif' font-size="7.5" fill="#000" stroke="#000" stroke-width="0.15">8</text><text transform="translate(419.2,173.6) rotate(90)" font-family='"Liberation Sans", sans-serif' font-size="7.1" text-anchor="middle" fill="#000" stroke="#000" stroke-width="0.15">Intensity (Arb. Un.)</text><path d="M319.10 20.40V58.20M334.70 23.40V50.10M323.40 37.10H346.00M351.40 31.70V59.50M360.70 55.60V92.40M370.90 43.00V75.50M379.80 41.50V62.50M386.70 44.10V81.70M390.60 42.00V76.00M395.00 41.50V71.00M397.70 60.00V83.70M402.20 42.70V67.50M408.90 57.60V83.60M413.20 58.50V79.00M415.70 46.00V79.80M419.50 47.00V76.00M421.50 48.00V78.00M423.40 48.00V75.00" stroke="#0000ff" stroke-width="1.3" fill="none"/><g fill="#9c9cff" stroke="#0000ff" stroke-width="1.1"><rect x="316.50" y="37.10" width="5.2" height="5.2"/><rect x="332.10" y="34.50" width="5.2" height="5.2"/><rect x="348.80" y="43.20" width="5.2" height="5.2"/><rect x="358.10" y="71.40" width="5.2" height="5.2"/><rect x="368.30" y="56.90" width="5.2" height="5.2"/><rect x="377.20" y="49.00" width="5.2" height="5.2"/><rect x="384.10" y="60.20" width="5.2" height="5.2"/><rect x="388.00" y="55.60" width="5.2" height="5.2"/><rect x="392.40" y="55.60" width="5.2" height="5.2"/><rect x="395.10" y="67.10" width="5.2" height="5.2"/><rect x="399.60" y="52.70" width="5.2" height="5.2"/><rect x="406.30" y="68.50" width="5.2" height="5.2"/><rect x="410.60" y="67.10" width="5.2" height="5.2"/><rect x="413.10" y="59.40" width="5.2" height="5.2"/><rect x="416.90" y="58.30" width="5.2" height="5.2"/><rect x="418.90" y="64.60" width="5.2" height="5.2"/><rect x="420.80" y="58.90" width="5.2" height="5.2"/></g><path d="M435.60 75.70V134.50M438.10 91.30V135.50M443.90 104.60V143.20M447.20 124.00V156.70M451.00 105.60V145.20M454.90 113.30V160.60M458.80 98.90V161.60M464.90 107.50V151.00M474.00 130.00V164.90M483.60 138.40V172.90M493.20 144.00V186.60M500.00 200.40V217.20" stroke="#ff0000" stroke-width="1.0" fill="none"/><g fill="#ffb0b0" stroke="#ff0000" stroke-width="1.0"><rect x="433.00" y="109.90" width="5.2" height="5.2"/><rect x="435.50" y="111.90" width="5.2" height="5.2"/><rect x="441.30" y="119.80" width="5.2" height="5.2"/><rect x="444.60" y="134.80" width="5.2" height="5.2"/><rect x="448.40" y="122.90" width="5.2" height="5.2"/><rect x="452.30" y="134.50" width="5.2" height="5.2"/><rect x="456.20" y="127.50" width="5.2" height="5.2"/><rect x="462.30" y="126.70" width="5.2" height="5.2"/><rect x="471.40" y="144.20" width="5.2" height="5.2"/><rect x="481.00" y="152.70" width="5.2" height="5.2"/><rect x="490.60" y="162.30" width="5.2" height="5.2"/><rect x="497.40" y="206.40" width="5.2" height="5.2"/></g><path d="M426.00 69.40V102.30M429.90 75.00V105.00M430.70 91.30V125.00" stroke="#999999" stroke-width="1.3" fill="none"/><g fill="#cfcfcf" stroke="#999999" stroke-width="1.1"><rect x="423.40" y="84.80" width="5.2" height="5.2"/><rect x="427.30" y="87.20" width="5.2" height="5.2"/><rect x="428.10" y="109.10" width="5.2" height="5.2"/></g><path d="M334.7 47.3L422.6 67.2C425.2 67.8 425.9 69.5 426.4 73L429.4 100.5C429.9 104.5 431 106.2 434 109L493.3 164.9" fill="none" stroke="#111" stroke-width="1.1"/><path d="M319.1 39.7H310" stroke="#0000ff" stroke-width="1.3"/><path d="M307.4 39.7L312 37.6V41.8Z" fill="#0000ff"/><path d="M500 209H509" stroke="#ff0000" stroke-width="1.3"/><path d="M512 209L507.4 206.9V211.1Z" fill="#ff0000"/><path d="M319.10 284.30V318.30M334.70 310.30V333.10M323.40 321.20H345.80M351.00 314.00V338.50M361.00 317.50V344.40M371.20 308.10V337.40M379.80 313.10V331.40M387.00 298.00V331.00M389.60 307.00V327.70M391.80 310.30V340.00M396.10 305.30V328.80M397.80 311.40V334.20M402.60 308.10V329.80M409.80 301.00V323.30M412.20 301.60V324.80M415.70 300.40V331.00M418.50 305.00V333.00M422.30 308.00V334.00" stroke="#0000ff" stroke-width="1.3" fill="none"/><g fill="#9c9cff" stroke="#0000ff" stroke-width="1.1"><path d="M319.10 296.65L322.90 303.23L315.30 303.23Z"/><path d="M334.70 317.25L338.50 323.83L330.90 323.83Z"/><path d="M351.00 321.55L354.80 328.13L347.20 328.13Z"/><path d="M361.00 328.05L364.80 334.63L357.20 334.63Z"/><path d="M371.20 318.25L375.00 324.83L367.40 324.83Z"/><path d="M379.80 317.85L383.60 324.43L376.00 324.43Z"/><path d="M387.00 309.65L390.80 316.23L383.20 316.23Z"/><path d="M389.60 313.95L393.40 320.53L385.80 320.53Z"/><path d="M391.80 320.85L395.60 327.43L388.00 327.43Z"/><path d="M396.10 312.85L399.90 319.43L392.30 319.43Z"/><path d="M397.80 317.85L401.60 324.43L394.00 324.43Z"/><path d="M402.60 315.05L406.40 321.63L398.80 321.63Z"/><path d="M409.80 307.95L413.60 314.53L406.00 314.53Z"/><path d="M412.20 308.55L416.00 315.13L408.40 315.13Z"/><path d="M415.70 313.35L419.50 319.93L411.90 319.93Z"/><path d="M418.50 316.65L422.30 323.23L414.70 323.23Z"/><path d="M422.30 317.65L426.10 324.23L418.50 324.23Z"/></g><path d="M434.90 276.30V312.50M435.60 280.00V316.00M437.30 265.50V306.50M443.40 278.70V312.50M447.00 287.20V318.50M450.60 273.90V310.00M454.20 266.70V307.70M457.80 252.20V310.00M464.60 261.40V301.60M474.20 270.30V302.80M483.10 267.90V299.20M492.80 258.30V296.80M499.30 290.30V305.20" stroke="#ff0000" stroke-width="1.0" fill="none"/><g fill="#ffb0b0" stroke="#ff0000" stroke-width="1.0"><path d="M434.90 288.75L438.70 295.33L431.10 295.33Z"/><path d="M435.60 292.85L439.40 299.43L431.80 299.43Z"/><path d="M437.30 280.85L441.10 287.43L433.50 287.43Z"/><path d="M443.40 291.65L447.20 298.23L439.60 298.23Z"/><path d="M447.00 297.65L450.80 304.23L443.20 304.23Z"/><path d="M450.60 286.85L454.40 293.43L446.80 293.43Z"/><path d="M454.20 283.25L458.00 289.83L450.40 289.83Z"/><path d="M457.80 276.75L461.60 283.33L454.00 283.33Z"/><path d="M464.60 276.75L468.40 283.33L460.80 283.33Z"/><path d="M474.20 282.45L478.00 289.03L470.40 289.03Z"/><path d="M483.10 279.15L486.90 285.73L479.30 285.73Z"/><path d="M492.80 273.05L496.60 279.63L489.00 279.63Z"/><path d="M499.30 292.85L503.10 299.43L495.50 299.43Z"/></g><path d="M426.60 279.00V318.50M429.70 279.00V315.00" stroke="#999999" stroke-width="1.3" fill="none"/><g fill="#cfcfcf" stroke="#999999" stroke-width="1.1"><path d="M426.60 298.35L430.40 304.93L422.80 304.93Z"/><path d="M429.70 291.55L433.50 298.13L425.90 298.13Z"/></g><path d="M334.7 325.5L421.5 317.2C423.6 317 424.6 316.2 425.4 314.2L432.2 298C433.2 295.6 434.5 294.8 436.5 294.1L492.8 279.2" fill="none" stroke="#111" stroke-width="1.1"/><path d="M319.1 300.6H310" stroke="#0000ff" stroke-width="1.3"/><path d="M307.4 300.6L312 298.5V302.7Z" fill="#0000ff"/><path d="M499.3 296.8H508" stroke="#ff0000" stroke-width="1.3"/><path d="M511 296.8L506.4 294.7V298.9Z" fill="#ff0000"/><path d="M305.20 225.4v-2.4M305.20 16.4v2.4M324.20 225.4v-4.3M324.20 16.4v4.3M343.20 225.4v-2.4M343.20 16.4v2.4M362.20 225.4v-4.3M362.20 16.4v4.3M381.20 225.4v-2.4M381.20 16.4v2.4M400.20 225.4v-4.3M400.20 16.4v4.3M419.20 225.4v-2.4M419.20 16.4v2.4M438.20 225.4v-4.3M438.20 16.4v4.3M457.20 225.4v-2.4M457.20 16.4v2.4M476.20 225.4v-4.3M476.20 16.4v4.3M495.20 225.4v-2.4M495.20 16.4v2.4M514.20 225.4v-4.3M514.20 16.4v4.3M305.2 225.40h4.3M514.2 225.40h-4.3M305.2 187.40h4.3M514.2 187.40h-4.3M305.2 149.40h4.3M514.2 149.40h-4.3M305.2 111.40h4.3M514.2 111.40h-4.3M305.2 73.40h4.3M514.2 73.40h-4.3M305.2 35.40h4.3M514.2 35.40h-4.3M305.2 206.40h2.4M514.2 206.40h-2.4M305.2 168.40h2.4M514.2 168.40h-2.4M305.2 130.40h2.4M514.2 130.40h-2.4M305.2 92.40h2.4M514.2 92.40h-2.4M305.2 54.40h2.4M514.2 54.40h-2.4" stroke="#262626" stroke-width="1" fill="none"/><path d="M305.20 379.3v-2.4M305.20 249.5v2.4M324.20 379.3v-4.3M324.20 249.5v4.3M343.20 379.3v-2.4M343.20 249.5v2.4M362.20 379.3v-4.3M362.20 249.5v4.3M381.20 379.3v-2.4M381.20 249.5v2.4M400.20 379.3v-4.3M400.20 249.5v4.3M419.20 379.3v-2.4M419.20 249.5v2.4M438.20 379.3v-4.3M438.20 249.5v4.3M457.20 379.3v-2.4M457.20 249.5v2.4M476.20 379.3v-4.3M476.20 249.5v4.3M495.20 379.3v-2.4M495.20 249.5v2.4M514.20 379.3v-4.3M514.20 249.5v4.3M305.2 379.30h4.3M514.2 379.30h-4.3M305.2 346.85h4.3M514.2 346.85h-4.3M305.2 314.40h4.3M514.2 314.40h-4.3M305.2 281.95h4.3M514.2 281.95h-4.3M305.2 249.50h4.3M514.2 249.50h-4.3" stroke="#262626" stroke-width="1" fill="none"/><rect x="305.2" y="16.4" width="209.00000000000006" height="209.0" fill="none" stroke="#262626" stroke-width="1.35"/><rect x="305.2" y="249.5" width="209.00000000000006" height="129.8" fill="none" stroke="#262626" stroke-width="1.35"/><text x="154.60" y="8.60" font-family='"Liberation Sans", sans-serif' font-size="12.0" text-anchor="middle" fill="#111" stroke="#111" stroke-width="0.25">(a)</text><text x="409.50" y="8.90" font-family='"Liberation Sans", sans-serif' font-size="12.0" text-anchor="middle" fill="#111" stroke="#111" stroke-width="0.25">(b)</text><text x="409.60" y="241.00" font-family='"Liberation Sans", sans-serif' font-size="12.0" text-anchor="middle" fill="#111" stroke="#111" stroke-width="0.25">(c)</text><text x="45.30" y="359.74" font-family='"Liberation Sans", sans-serif' font-size="12.0" text-anchor="end" fill="#111" stroke="#111" stroke-width="0.25">0</text><text x="45.30" y="314.43" font-family='"Liberation Sans", sans-serif' font-size="12.0" text-anchor="end" fill="#111" stroke="#111" stroke-width="0.25">200</text><text x="45.30" y="269.12" font-family='"Liberation Sans", sans-serif' font-size="12.0" text-anchor="end" fill="#111" stroke="#111" stroke-width="0.25">400</text><text x="45.30" y="223.81" font-family='"Liberation Sans", sans-serif' font-size="12.0" text-anchor="end" fill="#111" stroke="#111" stroke-width="0.25">600</text><text x="45.30" y="178.49" font-family='"Liberation Sans", sans-serif' font-size="12.0" text-anchor="end" fill="#111" stroke="#111" stroke-width="0.25">800</text><text x="45.30" y="133.18" font-family='"Liberation Sans", sans-serif' font-size="12.0" text-anchor="end" fill="#111" stroke="#111" stroke-width="0.25">1000</text><text x="45.30" y="87.87" font-family='"Liberation Sans", sans-serif' font-size="12.0" text-anchor="end" fill="#111" stroke="#111" stroke-width="0.25">1200</text><text x="45.30" y="42.56" font-family='"Liberation Sans", sans-serif' font-size="12.0" text-anchor="end" fill="#111" stroke="#111" stroke-width="0.25">1400</text><text x="64.56" y="393.60" font-family='"Liberation Sans", sans-serif' font-size="12.0" text-anchor="middle" fill="#111" stroke="#111" stroke-width="0.25">2</text><text x="94.49" y="393.60" font-family='"Liberation Sans", sans-serif' font-size="12.0" text-anchor="middle" fill="#111" stroke="#111" stroke-width="0.25">4</text><text x="124.42" y="393.60" font-family='"Liberation Sans", sans-serif' font-size="12.0" text-anchor="middle" fill="#111" stroke="#111" stroke-width="0.25">6</text><text x="154.35" y="393.60" font-family='"Liberation Sans", sans-serif' font-size="12.0" text-anchor="middle" fill="#111" stroke="#111" stroke-width="0.25">8</text><text x="184.28" y="393.60" font-family='"Liberation Sans", sans-serif' font-size="12.0" text-anchor="middle" fill="#111" stroke="#111" stroke-width="0.25">10</text><text x="214.21" y="393.60" font-family='"Liberation Sans", sans-serif' font-size="12.0" text-anchor="middle" fill="#111" stroke="#111" stroke-width="0.25">12</text><text x="244.14" y="393.60" font-family='"Liberation Sans", sans-serif' font-size="12.0" text-anchor="middle" fill="#111" stroke="#111" stroke-width="0.25">14</text><text x="300.60" y="228.90" font-family='"Liberation Sans", sans-serif' font-size="12.0" text-anchor="end" fill="#111" stroke="#111" stroke-width="0.25">7.8</text><text x="300.60" y="190.90" font-family='"Liberation Sans", sans-serif' font-size="12.0" text-anchor="end" fill="#111" stroke="#111" stroke-width="0.25">8.0</text><text x="300.60" y="152.90" font-family='"Liberation Sans", sans-serif' font-size="12.0" text-anchor="end" fill="#111" stroke="#111" stroke-width="0.25">8.2</text><text x="300.60" y="114.90" font-family='"Liberation Sans", sans-serif' font-size="12.0" text-anchor="end" fill="#111" stroke="#111" stroke-width="0.25">8.4</text><text x="300.60" y="76.90" font-family='"Liberation Sans", sans-serif' font-size="12.0" text-anchor="end" fill="#111" stroke="#111" stroke-width="0.25">8.6</text><text x="300.60" y="38.90" font-family='"Liberation Sans", sans-serif' font-size="12.0" text-anchor="end" fill="#111" stroke="#111" stroke-width="0.25">8.8</text><text x="301.00" y="383.00" font-family='"Liberation Sans", sans-serif' font-size="12.0" text-anchor="end" fill="#111" stroke="#111" stroke-width="0.25">1.0</text><text x="301.00" y="350.55" font-family='"Liberation Sans", sans-serif' font-size="12.0" text-anchor="end" fill="#111" stroke="#111" stroke-width="0.25">1.5</text><text x="301.00" y="318.10" font-family='"Liberation Sans", sans-serif' font-size="12.0" text-anchor="end" fill="#111" stroke="#111" stroke-width="0.25">2.0</text><text x="301.00" y="285.65" font-family='"Liberation Sans", sans-serif' font-size="12.0" text-anchor="end" fill="#111" stroke="#111" stroke-width="0.25">2.5</text><text x="301.00" y="253.20" font-family='"Liberation Sans", sans-serif' font-size="12.0" text-anchor="end" fill="#111" stroke="#111" stroke-width="0.25">3.0</text><text x="324.20" y="393.60" font-family='"Liberation Sans", sans-serif' font-size="12.0" text-anchor="middle" fill="#111" stroke="#111" stroke-width="0.25">60</text><text x="362.20" y="393.60" font-family='"Liberation Sans", sans-serif' font-size="12.0" text-anchor="middle" fill="#111" stroke="#111" stroke-width="0.25">80</text><text x="400.20" y="393.60" font-family='"Liberation Sans", sans-serif' font-size="12.0" text-anchor="middle" fill="#111" stroke="#111" stroke-width="0.25">100</text><text x="438.20" y="393.60" font-family='"Liberation Sans", sans-serif' font-size="12.0" text-anchor="middle" fill="#111" stroke="#111" stroke-width="0.25">120</text><text x="476.20" y="393.60" font-family='"Liberation Sans", sans-serif' font-size="12.0" text-anchor="middle" fill="#111" stroke="#111" stroke-width="0.25">140</text><text x="514.20" y="393.60" font-family='"Liberation Sans", sans-serif' font-size="12.0" text-anchor="middle" fill="#111" stroke="#111" stroke-width="0.25">160</text><text x="154.90" y="412.00" font-family='"Liberation Sans", sans-serif' font-size="12.0" text-anchor="middle" fill="#111" stroke="#111" stroke-width="0.25">Energy (meV)</text><text x="410.30" y="411.80" font-family='"Liberation Sans", sans-serif' font-size="12.0" text-anchor="middle" fill="#111" stroke="#111" stroke-width="0.25">Temperature (K)</text><text transform="translate(11.1,197.5) rotate(-90)" font-family='"Liberation Sans", sans-serif' font-size="12.0" text-anchor="middle" fill="#111" stroke="#111" stroke-width="0.25">Intensity (counts/10<tspan font-size="7.8" dy="-5.2" dx="0.3">5</tspan><tspan dy="5.2" dx="1"> monitor)</tspan></text><text transform="translate(277.4,120.1) rotate(-90)" font-family='"Liberation Sans", sans-serif' font-size="12.0" text-anchor="middle" fill="#111" stroke="#111" stroke-width="0.25">Energy (meV)</text><text transform="translate(277.7,313.6) rotate(-90)" font-family='"Liberation Sans", sans-serif' font-size="12.0" text-anchor="middle" fill="#111" stroke="#111" stroke-width="0.25">FWHM (meV)</text><text x="58.2" y="35.4" font-family='"Liberation Sans", sans-serif' font-size="12.0" fill="#111" stroke="#111" stroke-width="0.25"><tspan font-weight="bold">Q</tspan> = (4,0,-0.5)</text><text x="54.30" y="95.90" font-family='"Liberation Sans", sans-serif' font-size="12.0" text-anchor="start" fill="#111" stroke="#111" stroke-width="0.25">T=139-149 K</text><text x="54.30" y="129.60" font-family='"Liberation Sans", sans-serif' font-size="12.0" text-anchor="start" fill="#111" stroke="#111" stroke-width="0.25">T=129-134 K</text><text x="54.30" y="164.90" font-family='"Liberation Sans", sans-serif' font-size="12.0" text-anchor="start" fill="#111" stroke="#111" stroke-width="0.25">T=123-127 K</text><text x="54.30" y="199.10" font-family='"Liberation Sans", sans-serif' font-size="12.0" text-anchor="start" fill="#111" stroke="#111" stroke-width="0.25">T=118-120 K</text><text x="54.30" y="233.10" font-family='"Liberation Sans", sans-serif' font-size="12.0" text-anchor="start" fill="#111" stroke="#111" stroke-width="0.25">T=109-111 K</text><text x="54.30" y="267.20" font-family='"Liberation Sans", sans-serif' font-size="12.0" text-anchor="start" fill="#111" stroke="#111" stroke-width="0.25">T=101-107 K</text><text x="54.30" y="302.10" font-family='"Liberation Sans", sans-serif' font-size="12.0" text-anchor="start" fill="#111" stroke="#111" stroke-width="0.25">T=96-98 K</text><text x="54.30" y="335.70" font-family='"Liberation Sans", sans-serif' font-size="12.0" text-anchor="start" fill="#111" stroke="#111" stroke-width="0.25">T=89-94 K</text></svg>
</body></html>
